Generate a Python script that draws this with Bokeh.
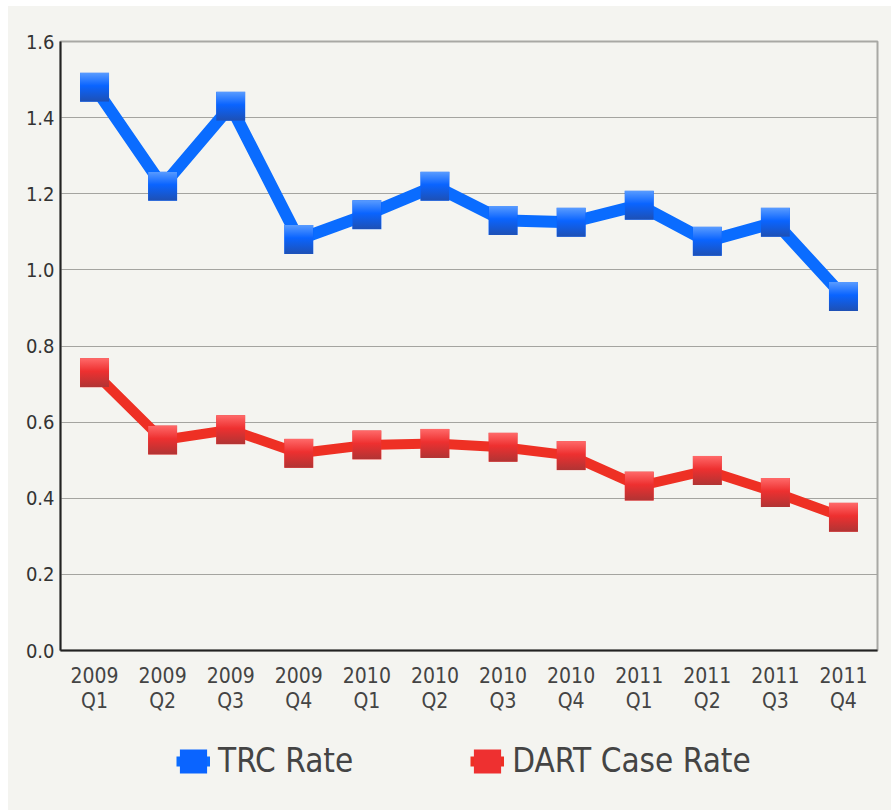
import base64
from bokeh.plotting import figure
from bokeh.layouts import column
from bokeh.models import (ColumnDataSource, Range1d, FactorRange, FixedTicker,
                          PrintfTickFormatter, Legend, LegendItem)
from bokeh.core.properties import value
from bokeh.embed import file_html
from bokeh.resources import INLINE

# ---- data ----
quarters = ["2009\nQ1", "2009\nQ2", "2009\nQ3", "2009\nQ4",
            "2010\nQ1", "2010\nQ2", "2010\nQ3", "2010\nQ4",
            "2011\nQ1", "2011\nQ2", "2011\nQ3", "2011\nQ4"]
trc_rate = [1.48, 1.22, 1.43, 1.08, 1.145, 1.22, 1.13, 1.125, 1.17, 1.075, 1.125, 0.93]
dart_rate = [0.73, 0.553, 0.58, 0.518, 0.54, 0.544, 0.534, 0.512, 0.432, 0.473, 0.415, 0.35]
y_ticks = [0.0, 0.2, 0.4, 0.6, 0.8, 1.0, 1.2, 1.4, 1.6]
series_names = ["TRC Rate", "DART Case Rate"]

# ---- style ----
BG = "#f4f4f0"
FONT = "DejaVu Sans Condensed, DejaVu Sans, sans-serif"
BLUE_LINE = "#0a6cff"
RED_LINE = "#ee3024"
BLUE = ("#5a9cff", "#0a64ff", "#1e50b4")
RED = ("#ff6a6a", "#ee3030", "#b03434")
MSIZE = 29


def grad_uri(top, mid, bot):
    svg = ("<svg xmlns='http://www.w3.org/2000/svg' width='29' height='29' viewBox='0 0 29 29'>"
           "<defs><linearGradient id='g' x1='0' y1='0' x2='0' y2='1'>"
           f"<stop offset='0' stop-color='{top}'/>"
           f"<stop offset='0.45' stop-color='{mid}'/>"
           f"<stop offset='1' stop-color='{bot}'/>"
           "</linearGradient></defs>"
           "<rect width='29' height='29' fill='url(#g)'/></svg>")
    return "data:image/svg+xml;base64," + base64.b64encode(svg.encode()).decode()


src = ColumnDataSource(dict(q=quarters, trc=trc_rate, dart=dart_rate))

# ---- main chart ----
p = figure(width=883, height=714,
           x_range=FactorRange(factors=quarters), y_range=Range1d(0, 1.6),
           output_backend="svg", toolbar_location=None,
           min_border_left=52, min_border_right=14, min_border_top=35, min_border_bottom=70,
           background_fill_color=BG, border_fill_color=BG,
           outline_line_color="#a8a8a4", outline_line_width=2)

p.xgrid.visible = False
p.ygrid.grid_line_color = "#a4a4a0"
p.ygrid.grid_line_width = 1
p.ygrid.ticker = FixedTicker(ticks=y_ticks)

p.yaxis.ticker = FixedTicker(ticks=y_ticks)
p.yaxis.formatter = PrintfTickFormatter(format="%.1f")
for ax in (p.xaxis[0], p.yaxis[0]):
    ax.axis_line_color = "#222222"
    ax.axis_line_width = 2
    ax.major_tick_line_color = None
    ax.minor_tick_line_color = None
    ax.major_tick_out = 0
    ax.major_tick_in = 0
    ax.minor_tick_out = 0
    ax.major_label_text_font = FONT
p.yaxis.major_label_text_font_size = "20px"
p.yaxis.major_label_text_color = "#333333"
p.yaxis.major_label_standoff = 6
p.xaxis.major_label_text_font_size = "21px"
p.xaxis.major_label_text_color = "#444444"
p.xaxis.major_label_standoff = 13
p.xaxis.major_label_text_line_height = 1.08

p.line(x="q", y="trc", source=src, line_color=BLUE_LINE, line_width=12)
p.line(x="q", y="dart", source=src, line_color=RED_LINE, line_width=10)

p.rect(x="q", y="trc", width=MSIZE, height=MSIZE, width_units="screen",
       height_units="screen", source=src, fill_color=BLUE[1], line_color=None)
p.rect(x="q", y="dart", width=MSIZE, height=MSIZE, width_units="screen",
       height_units="screen", source=src, fill_color=RED[1], line_color=None)

p.image_url(url=value(grad_uri(*BLUE)), x="q", y="trc", w=MSIZE, h=MSIZE,
            w_units="screen", h_units="screen", anchor="center", source=src)
p.image_url(url=value(grad_uri(*RED)), x="q", y="dart", w=MSIZE, h=MSIZE,
            w_units="screen", h_units="screen", anchor="center", source=src)

# ---- legend strip (same series, drawn out of view; only the legend is seen) ----
lg = figure(width=883, height=90, x_range=FactorRange(factors=quarters),
            y_range=Range1d(5, 6),
            output_backend="svg", toolbar_location=None,
            x_axis_location=None, y_axis_location=None,
            min_border=0, background_fill_color=None, border_fill_color=BG,
            outline_line_color=None)
lg.xgrid.visible = False
lg.ygrid.visible = False
l1 = lg.line(x="q", y="trc", source=src, line_color=BLUE_LINE, line_width=10)
r1 = lg.rect(x="q", y="trc", width=MSIZE, height=MSIZE, width_units="screen",
             height_units="screen", source=src, fill_color=BLUE[1], line_color=None)
l2 = lg.line(x="q", y="dart", source=src, line_color=RED_LINE, line_width=10)
r2 = lg.rect(x="q", y="dart", width=MSIZE, height=MSIZE, width_units="screen",
             height_units="screen", source=src, fill_color=RED[1], line_color=None)

legend = Legend(items=[LegendItem(label=series_names[0], renderers=[l1, r1]),
                       LegendItem(label=series_names[1], renderers=[l2, r2])],
                orientation="horizontal", location=(116, 30),
                glyph_width=34, glyph_height=30, label_standoff=8, spacing=117,
                padding=0, margin=0, background_fill_alpha=0, border_line_color=None,
                label_text_font=FONT, label_text_font_size="33px",
                label_text_color="#444444")
lg.add_layout(legend, "center")

layout = column(p, lg, spacing=0)
layout.margin = (6, 0, 0, 8)
layout.styles = {"background-color": BG}

open("out.html", "w").write(file_html(layout, INLINE))
